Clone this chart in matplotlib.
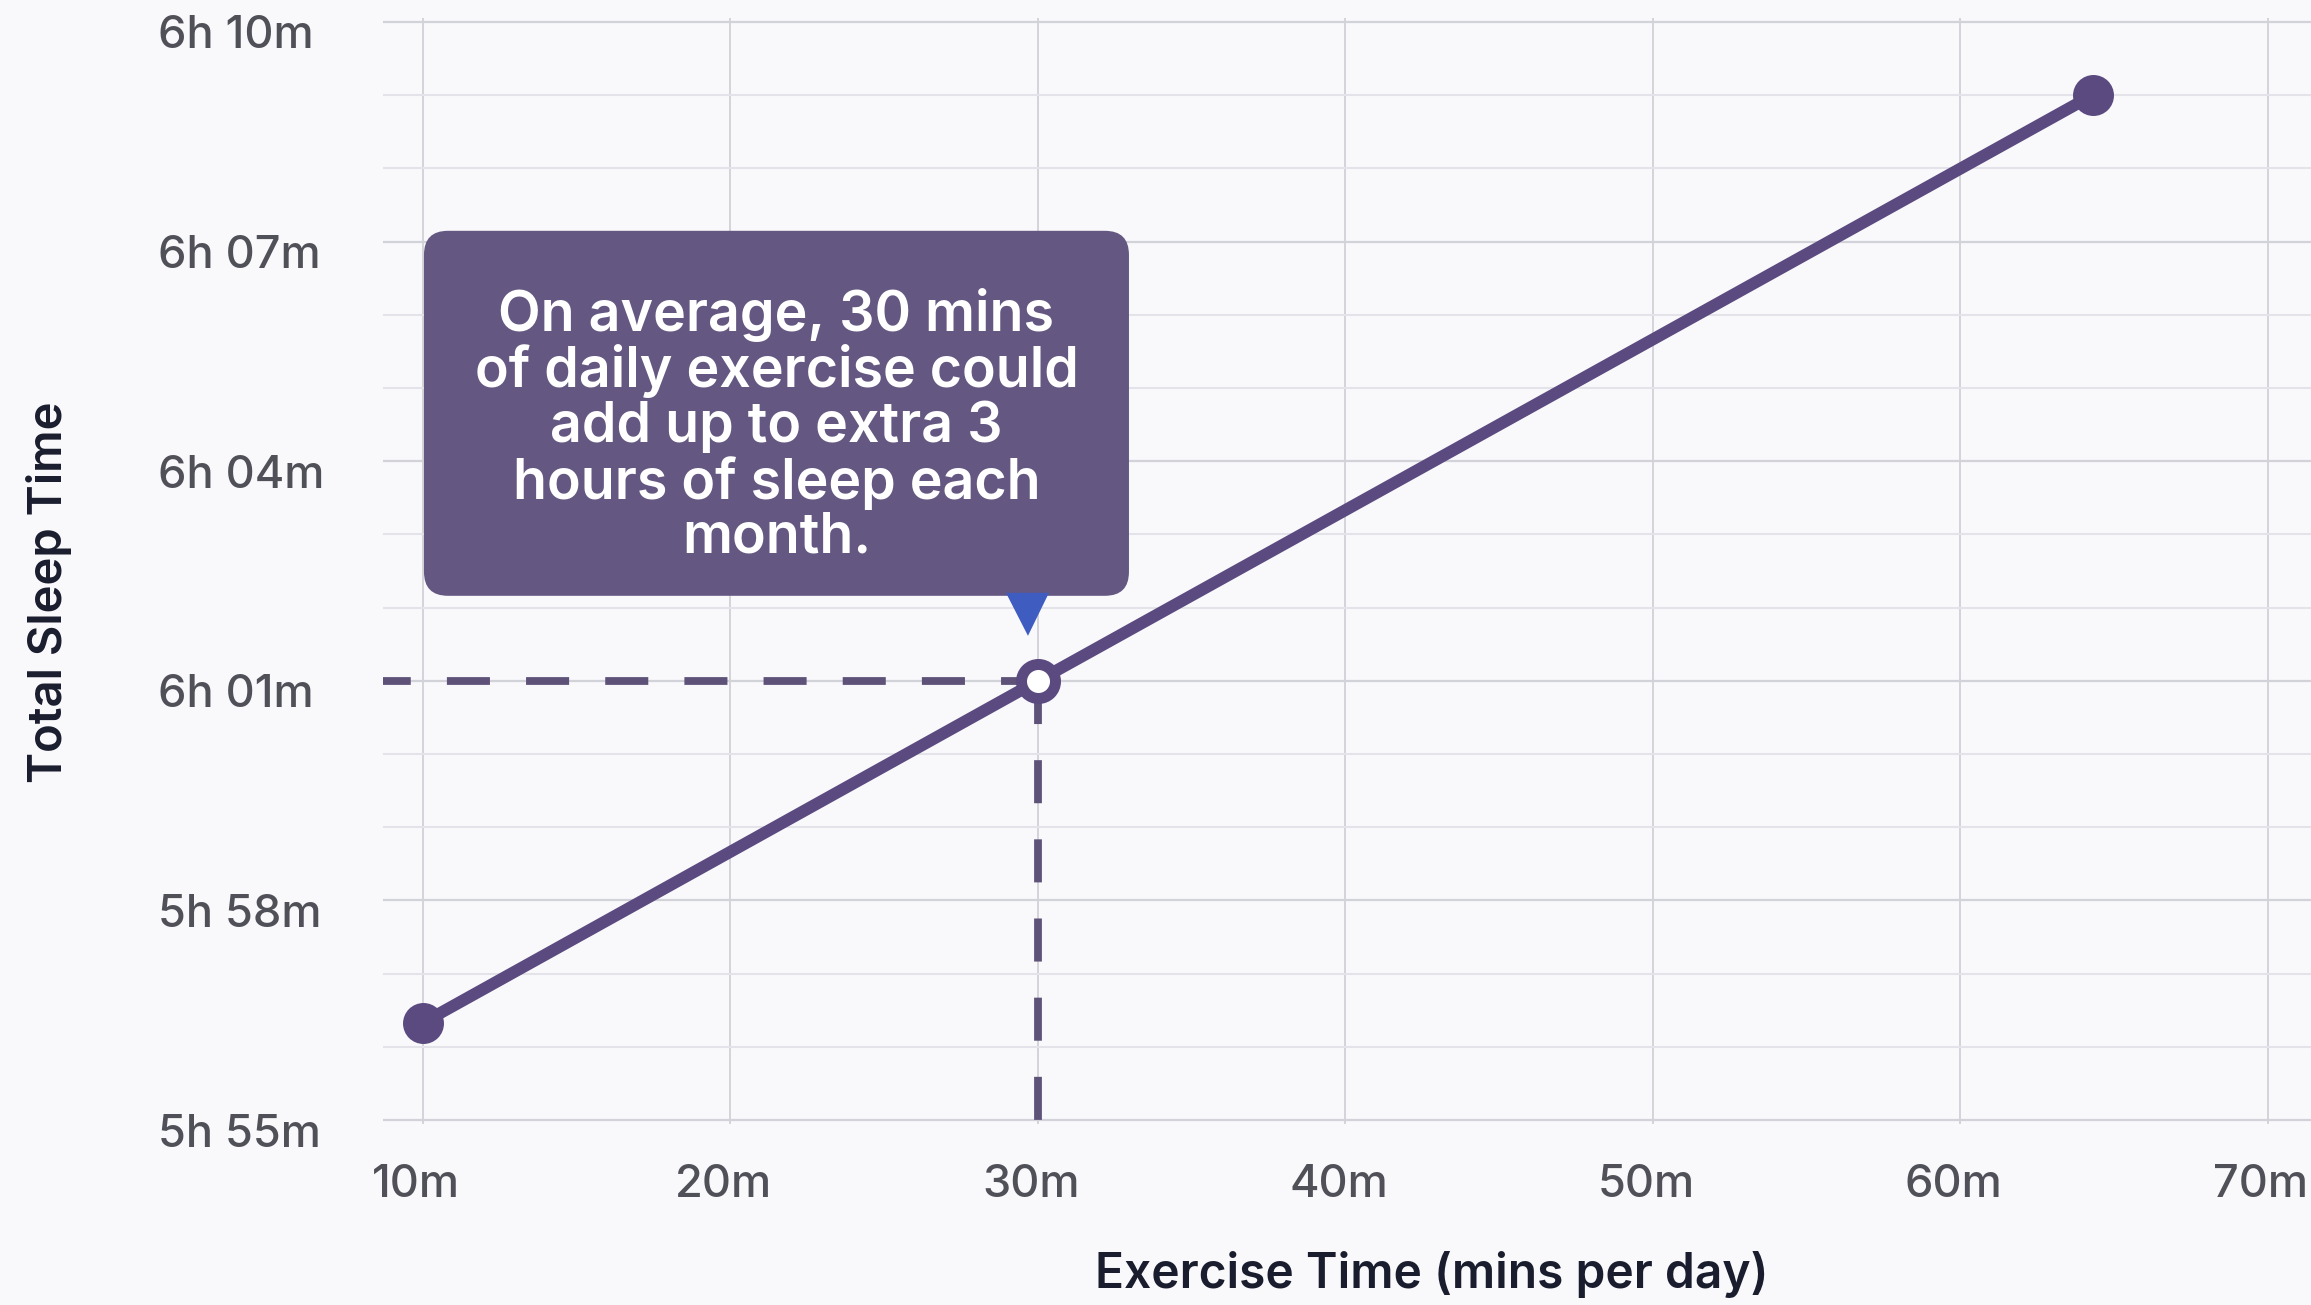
import matplotlib
matplotlib.use("Agg")
import matplotlib.pyplot as plt
from matplotlib.patches import FancyBboxPatch, Polygon
from matplotlib.ticker import FixedLocator, MultipleLocator
from matplotlib.transforms import IdentityTransform, ScaledTranslation

# ---- data -------------------------------------------------------------
exercise_minutes = [10, 30, 64.3]          # minutes of exercise per day
sleep_minutes = [356.33, 361.0, 369.0]     # total sleep, in minutes
highlight_index = 1                        # the 30-minute point

x_ticks = [10, 20, 30, 40, 50, 60, 70]
x_tick_labels = ["10m", "20m", "30m", "40m", "50m", "60m", "70m"]
y_ticks = [355, 358, 361, 364, 367, 370]
y_tick_labels = ["5h 55m", "5h 58m", "6h 01m", "6h 04m", "6h 07m", "6h 10m"]

callout_text = ("On average, 30 mins\nof daily exercise could\nadd up to extra 3\n"
                "hours of sleep each\nmonth.")
x_title = "Exercise Time (mins per day)"
y_title = "Total Sleep Time"

# ---- style ------------------------------------------------------------
plt.rcParams["font.family"] = ["Inter", "DejaVu Sans"]
plt.rcParams["lines.scale_dashes"] = False

BG = "#f9f9fc"
LINE = "#5b4a80"
DASH = "#5e5279"
BOX = "#645781"
POINTER = "#3f5dc0"
TICK = "#505158"
TITLE = "#1a1d2e"

W, H, DPI = 2311, 1305, 100
fig = plt.figure(figsize=(W / DPI, H / DPI), dpi=DPI, facecolor=BG)

# axes box in pixels
left_px, right_px = 383, 2311
top_px, bottom_px = 18.3, 1123.7
ax = fig.add_axes([left_px / W, 1 - bottom_px / H,
                   (right_px - left_px) / W, (bottom_px - top_px) / H])
ax.set_facecolor(BG)
ax.set_xlim(8.70, 71.40)
ax.set_ylim(354.95, 370.05)

for s in ax.spines.values():
    s.set_visible(False)

ax.xaxis.set_major_locator(FixedLocator(x_ticks))
ax.set_xticklabels(x_tick_labels)
ax.yaxis.set_major_locator(FixedLocator(y_ticks))
ax.set_yticklabels(y_tick_labels)
ax.yaxis.set_minor_locator(MultipleLocator(1))

ax.tick_params(axis="both", which="both", length=0)
ax.tick_params(axis="x", labelsize=32.5, labelcolor=TICK, pad=29)
ax.tick_params(axis="y", labelsize=32.5, labelcolor=TICK, pad=162)
for lab in ax.get_xticklabels():
    lab.set_fontweight("medium")
    lab.set_transform(lab.get_transform()
                      + ScaledTranslation(-7 / DPI, 0, fig.dpi_scale_trans))
for lab in ax.get_yticklabels():
    lab.set_horizontalalignment("left")
    lab.set_fontweight("medium")
    lab.set_transform(lab.get_transform()
                      + ScaledTranslation(0, -10 / DPI, fig.dpi_scale_trans))

ax.grid(axis="y", which="major", color="#d2d2d9", linewidth=1.6, zorder=0)
ax.grid(axis="y", which="minor", color="#e3e3e9", linewidth=1.5, zorder=0)
ax.grid(axis="x", which="major", color="#c9c9d0", linewidth=1.1, zorder=0)
ax.set_axisbelow(True)

# ---- guide lines to the highlighted point -----------------------------
hx = exercise_minutes[highlight_index]
hy = sleep_minutes[highlight_index]
x0 = ax.get_xlim()[0]
y0 = y_ticks[0]
ax.plot([x0, hx], [hy, hy], color=DASH, linewidth=5.6,
        linestyle=(11, (31, 26)), solid_capstyle="butt", zorder=2)
ax.plot([hx, hx], [hy, y0], color=DASH, linewidth=5.6,
        linestyle=(0, (31, 26)), zorder=2, clip_on=False)

# ---- main series ------------------------------------------------------
ax.plot(exercise_minutes, sleep_minutes, color=LINE, linewidth=8.6,
        solid_capstyle="round", zorder=3)
ends = [0, len(exercise_minutes) - 1]
ax.plot([exercise_minutes[i] for i in ends], [sleep_minutes[i] for i in ends],
        linestyle="none", marker="o", markersize=29.5, color=LINE,
        markeredgewidth=0, zorder=4, clip_on=False)
ax.plot([hx], [hy], linestyle="none", marker="o", markersize=24.5,
        markerfacecolor="white", markeredgecolor=LINE, markeredgewidth=7.9,
        zorder=5)

# ---- callout ----------------------------------------------------------
fig.canvas.draw()
px, py = ax.transData.transform((hx, hy))
bx0, bx1 = px - 614, px + 91
by0, by1 = py + 85, py + 450
box = FancyBboxPatch((bx0, by0), bx1 - bx0, by1 - by0,
                     boxstyle="round,pad=0,rounding_size=24",
                     facecolor=BOX, edgecolor="none",
                     transform=IdentityTransform(), zorder=6)
fig.add_artist(box)
tri = Polygon([(px - 32, py + 88), (px + 11, py + 88), (px - 10, py + 45)],
              closed=True, facecolor=POINTER, edgecolor="none",
              transform=IdentityTransform(), zorder=6)
fig.add_artist(tri)
fig.text((bx0 + bx1) / 2 / W, (py + 255) / H, callout_text,
         ha="center", va="center", multialignment="center",
         fontsize=40, fontweight="semibold", color="white",
         linespacing=1.06, zorder=7)

# ---- axis titles ------------------------------------------------------
fig.text(49 / W, 1 - 592 / H, y_title, rotation=90, ha="center", va="center",
         fontsize=34, fontweight="semibold", color=TITLE)
fig.text(1432 / W, 1 - 1275 / H, x_title, ha="center", va="center",
         fontsize=34.5, fontweight="semibold", color=TITLE)

fig.savefig("out.png", dpi=DPI, facecolor=BG)
